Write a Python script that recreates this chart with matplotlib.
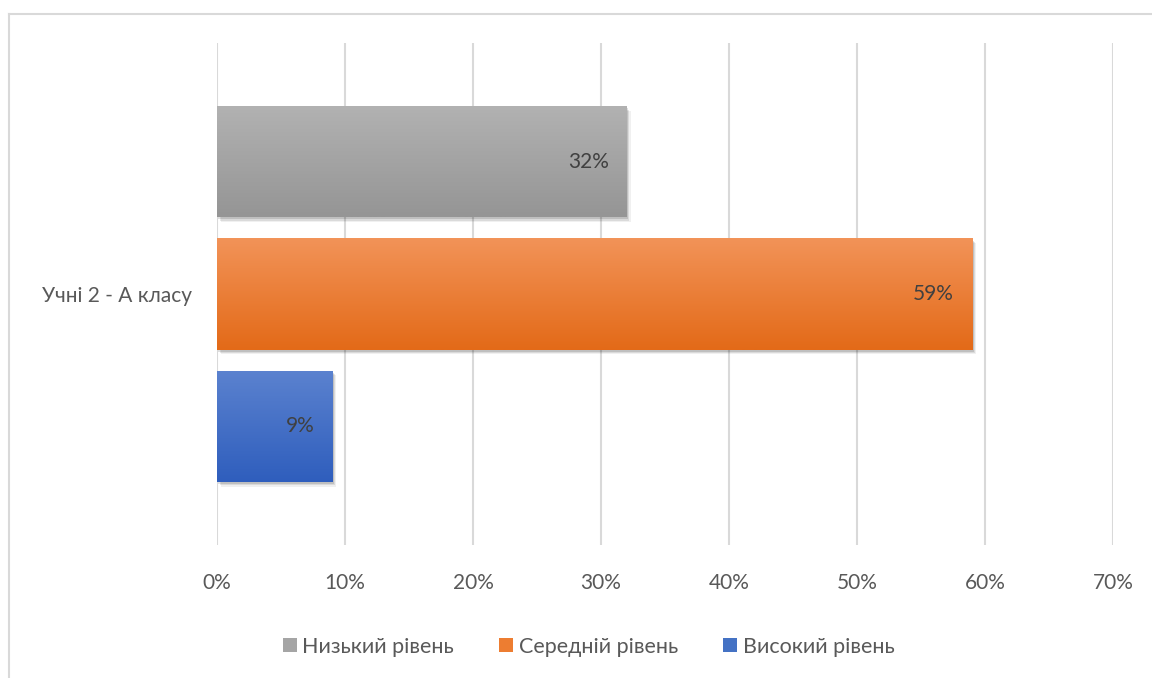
import numpy as np
import matplotlib.pyplot as plt
from matplotlib.patches import Patch
from matplotlib.lines import Line2D
from matplotlib import patheffects as pe
from matplotlib.colors import LinearSegmentedColormap

plt.rcParams['font.family'] = ['Lato', 'DejaVu Sans']

# DATA
#*************
category = 'Учні 2 - А класу'
series = ['Низький рівень', 'Середній рівень', 'Високий рівень']
values = [32, 59, 9]  # percent
ticks = [0, 10, 20, 30, 40, 50, 60, 70]

colors = ['#a5a5a5', '#ed7d31', '#4472c4']
grad_top = ['#b2b2b2', '#f29358', '#5b82cf']
grad_bot = ['#959595', '#e36a18', '#2f5ebd']

# FIGURE
#*************
fig = plt.figure(figsize=(11.52, 6.78), dpi=100)
ax = fig.add_axes([0.1884, 0.1962, 0.9661 - 0.1884, 0.9366 - 0.1962])

offsets = np.array([-1.19, 0, 1.19])
bars = ax.barh(offsets, values, height=1.0, color=colors, zorder=3)

for b, top, bot in zip(bars, grad_top, grad_bot):
    b.set_path_effects([pe.SimplePatchShadow(offset=(3, -3.5), shadow_rgbFace='#000000', alpha=0.06),
                        pe.SimplePatchShadow(offset=(2, -2.5), shadow_rgbFace='#000000', alpha=0.09),
                        pe.SimplePatchShadow(offset=(1, -1.5), shadow_rgbFace='#000000', alpha=0.12),
                        pe.Normal()])
    cmap = LinearSegmentedColormap.from_list('g', [top, bot])
    x0, y0 = b.get_x(), b.get_y()
    w, h = b.get_width(), b.get_height()
    grad = np.linspace(0, 1, 100).reshape(-1, 1)
    im = ax.imshow(grad, cmap=cmap, aspect='auto', extent=[x0, x0 + w, y0 + h, y0],
                   origin='upper', zorder=4)
    im.set_clip_path(b)

for v, y in zip(values, offsets):
    ax.annotate(f'{v}%', (v, y), xytext=(-13, 0), textcoords='offset points',
                ha='right', va='center', fontsize=15, color='#404040', zorder=5)

ax.set_xlim(0, 70)
ax.set_ylim(2.26, -2.26)
ax.set_xticks(ticks)
ax.set_xticklabels([f'{t}%' for t in ticks])
ax.set_yticks([0])
ax.set_yticklabels([category])
ax.tick_params(length=0, labelsize=15, labelcolor='#595959')
ax.tick_params(axis='x', pad=20)
ax.tick_params(axis='y', pad=18)
ax.xaxis.grid(True, color='#d9d9d9', linewidth=1.5, zorder=0)
ax.set_axisbelow(True)
for s in ax.spines.values():
    s.set_visible(False)

handles = [Patch(facecolor=c, edgecolor='none') for c in colors]
fig.legend(handles, series, loc='center', bbox_to_anchor=(0.511, 0.046), ncol=3,
           frameon=False, fontsize=15.5, labelcolor='#595959', handlelength=0.65,
           handleheight=0.65, handletextpad=0.25, columnspacing=2.1)

# outer chart border
fig.add_artist(Line2D([9 / 1152, 1], [1 - 14 / 678] * 2, color='#d9d9d9', linewidth=1.5))
fig.add_artist(Line2D([9 / 1152] * 2, [0, 1 - 14 / 678], color='#d9d9d9', linewidth=1.5))

fig.savefig('out.png', dpi=100)
